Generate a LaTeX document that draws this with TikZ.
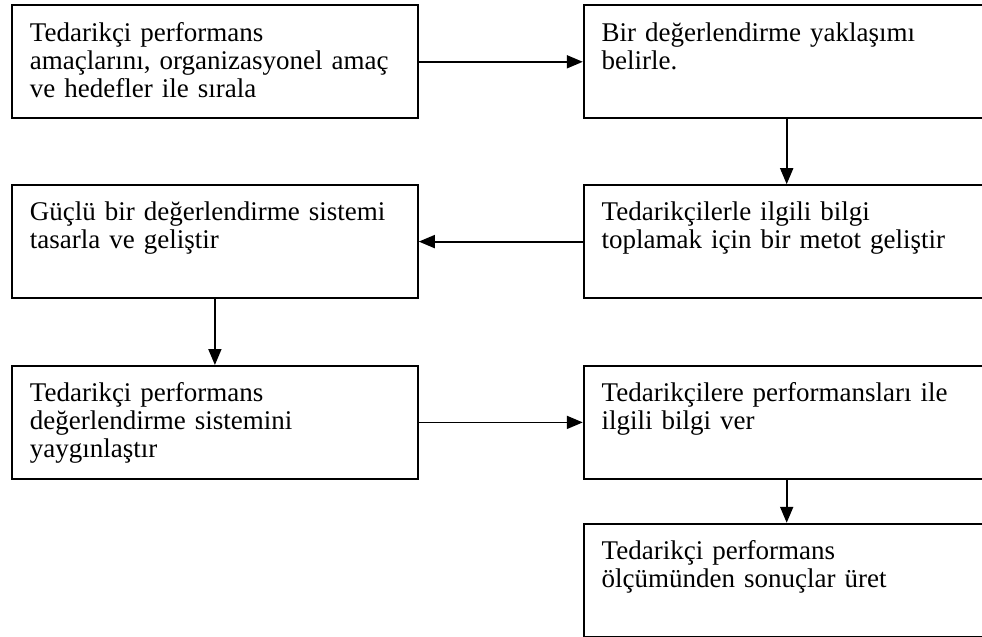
\documentclass[tikz,border=0pt]{standalone}
\usepackage{fontspec}
\setmainfont{Liberation Serif}
\usetikzlibrary{positioning,arrows.meta}

\begin{document}
\begin{tikzpicture}[node distance=32.5pt and 82pt,
    stage/.style={rectangle, draw, line width=0.9pt, minimum width=203pt, minimum height=56.5pt, text width=185pt, align=left, inner xsep=9pt, inner ysep=8pt, text height=9.9pt, text depth=30.6pt, font=\fontsize{13.5}{14}\selectfont},
    line/.style={draw, line width=0.9pt, -{Triangle[length=8pt,width=6.5pt]}}]

    \clip (0,0) rectangle (491pt,-318.5pt);

    \node [stage, anchor=north west] (amac) at (5.5pt,-2.2pt) {Tedarikçi performans\\amaçlarını, organizasyonel amaç\\ve hedefler ile sırala};
    \node [stage, right=of amac] (yaklasim) {Bir değerlendirme yaklaşımı\\belirle.};
    \node [stage, below=of yaklasim] (metot) {Tedarikçilerle ilgili bilgi\\toplamak için bir metot geliştir};
    \node [stage, below=of amac] (sistem) {Güçlü bir değerlendirme sistemi\\tasarla ve geliştir};
    \node [stage, below=33pt of sistem] (yaygin) {Tedarikçi performans\\değerlendirme sistemini\\yaygınlaştır};
    \node [stage, right=of yaygin] (bilgi) {Tedarikçilere performansları ile\\ilgili bilgi ver};
    \node [stage, below=21.5pt of bilgi] (sonuc) {Tedarikçi performans\\ölçümünden sonuçlar üret};

    \draw [line] (amac) -- (yaklasim);
    \draw [line] (yaklasim) -- (metot);
    \draw [line] (metot) -- (sistem);
    \draw [line] (sistem) -- (yaygin);
    \draw [line] (yaygin) -- (bilgi);
    \draw [line] (bilgi) -- (sonuc);
\end{tikzpicture}
\end{document}
